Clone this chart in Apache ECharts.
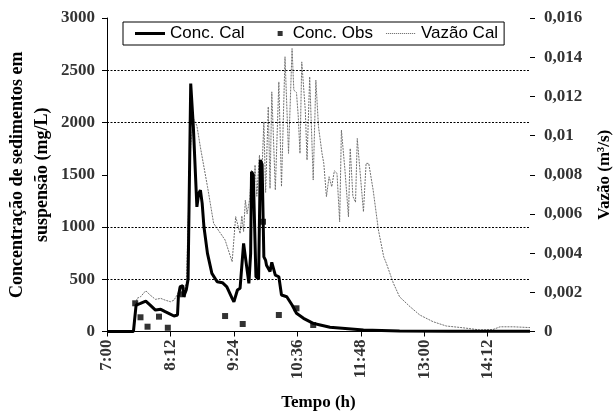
<!DOCTYPE html>
<html>
<head>
<meta charset="utf-8">
<script src="https://cdn.jsdelivr.net/npm/echarts@6/dist/echarts.min.js"></script>
<style>html,body{margin:0;padding:0;background:#fff}#c{width:615px;height:416px}</style>
</head>
<body>
<div id="c"></div>
<script>
// time in minutes since midnight
var calTimes  = [420,450,453,458,464,469,475,481,486,490,496,500,501,503,506,507,510,512,515,518,522,524,526,528,530,534,539,545,551,556,562,564,568,571,573,575,578,581,583,584,586,589,592,594,596,598,600,601,605,607,611,615,618,624,630,635,643,654,662,673,711,752,809,900];
var calValues = [0,0,253,270,291,253,205,212,190,174,148,158,333,428,440,333,400,500,2373,1958,1193,1321,1353,1226,1002,748,556,476,467,428,317,285,397,413,428,843,652,461,748,1528,1500,524,500,1640,1600,715,680,634,575,662,540,524,349,333,253,174,126,78,62,40,14,5,3,2];

var obsTimes  = [452,458,466,479,489,506,554,574,597,615,635,654];
var obsValues = [270,136,46,142,36,356,148,72,1050,158,222,62];

var flowTimes  = [420,450,454,458,464,469,475,481,486,492,496,500,503,507,510,512,515,518,522,526,534,541,554,562,566,568,571,573,575,577,579,582,584,586,588,590,593,595,598,600,603,605,607,611,615,618,620,622,626,630,632,635,637,639,641,645,647,650,654,657,660,664,666,669,672,675,678,681,684,686,690,694,696,699,702,704,707,711,714,717,722,728,734,737,745,752,764,775,790,805,824,843,858,866,881,900];
var flowValues = [0,0,0.00169,0.00177,0.00208,0.00186,0.00164,0.00169,0.0016,0.00152,0.0016,0.0019,0.00237,0.0020,0.0025,0.0055,0.0095,0.01087,0.0105,0.0094,0.0074,0.00552,0.00467,0.00356,0.00586,0.0059,0.0050,0.0059,0.0051,0.0067,0.0060,0.0068,0.00824,0.0070,0.0085,0.0069,0.0090,0.0072,0.0107,0.0071,0.01147,0.0073,0.01223,0.00722,0.01274,0.0074,0.00747,0.01402,0.00909,0.01444,0.01232,0.0122,0.0110,0.00909,0.01376,0.0113,0.00875,0.0130,0.00773,0.01283,0.01045,0.00909,0.00858,0.00688,0.0079,0.00739,0.0082,0.00807,0.0056,0.01028,0.00824,0.00585,0.00934,0.0069,0.0066,0.00985,0.00824,0.00611,0.00858,0.00858,0.00722,0.00518,0.00381,0.00348,0.00246,0.00177,0.00126,0.00084,0.0005,0.00028,0.00019,0.00008,0.0001,0.00024,0.00024,0.0002];

var gridValues = [500, 1000, 2000, 2500];

function zip(a, b) { return a.map(function (t, i) { return [t, b[i]]; }); }
function fmtTime(v) { var h = Math.floor(v / 60), m = Math.round(v % 60); return h + ':' + (m < 10 ? '0' : '') + m; }

// legend icons (30 x 14 box)
var iconThick = 'path://M0,0L0.01,0M30,14L29.99,14M0,5.5h30v3h-30z';
var iconSquare = 'path://M0,0L0.01,0M30,14L29.99,14M20,4.5h5v5h-5z';
var dots = 'M0,0L0.01,0M30,14L29.99,14';
for (var k = 0; k < 30; k += 2) dots += 'M' + k + ',6.5h1.2v1h-1.2z';
var iconDotted = 'path://' + dots;

var serif = 'Liberation Serif';
var chart = echarts.init(document.getElementById('c'), null, {renderer: 'canvas'});
chart.setOption({
  animation: false,
  backgroundColor: '#fff',
  grid: {left: 107, right: 85, top: 18, bottom: 84.5, containLabel: false, outerBoundsMode: 'none'},
  legend: {
    left: 123, top: 22,
    padding: [3, 6, 3, 12],
    itemGap: 13, itemWidth: 30, itemHeight: 14,
    borderColor: '#000', borderWidth: 1, borderRadius: 0,
    backgroundColor: '#fff',
    textStyle: {fontFamily: 'Liberation Sans', fontSize: 17, color: '#000'},
    data: [
      {name: 'Conc. Cal', icon: iconThick, itemStyle: {color: '#000'}},
      {name: 'Conc. Obs', icon: iconSquare, itemStyle: {color: '#000'}},
      {name: 'Vazão Cal', icon: iconDotted, itemStyle: {color: '#777'}}
    ]
  },
  xAxis: {
    type: 'value', min: 420, max: 900, interval: 72,
    name: 'Tempo (h)', nameLocation: 'middle', nameGap: 63,
    nameTextStyle: {fontFamily: serif, fontWeight: 'bold', fontSize: 17, color: '#000'},
    axisLine: {show: true, lineStyle: {color: '#000', width: 1}},
    axisTick: {show: true, length: 5, lineStyle: {color: '#000'}},
    axisLabel: {rotate: 90, margin: 8, showMaxLabel: false, formatter: fmtTime,
      fontFamily: serif, fontWeight: 'bold', fontSize: 17, color: '#333'},
    splitLine: {show: false}
  },
  yAxis: [
    {
      type: 'value', min: 0, max: 3000, interval: 500,
      name: 'Concentração de sedimentos em\nsuspensão (mg/L)', nameLocation: 'middle', nameGap: 52,
      nameMoveOverlap: false,
      nameTextStyle: {fontFamily: serif, fontWeight: 'bold', fontSize: 18, lineHeight: 25, color: '#000'},
      axisLine: {show: true, lineStyle: {color: '#000', width: 1}},
      axisTick: {show: true, length: 5, lineStyle: {color: '#000'}},
      axisLabel: {margin: 12, fontFamily: serif, fontWeight: 'bold', fontSize: 17, color: '#333',
        formatter: function (v) { return String(v); }},
      splitLine: {show: false}
    },
    {
      type: 'value', min: 0, max: 0.016, interval: 0.002, position: 'right',
      name: 'Vazão (m³/s)', nameLocation: 'middle', nameGap: 66,
      nameMoveOverlap: false,
      nameTextStyle: {fontFamily: serif, fontWeight: 'bold', fontSize: 17, color: '#000'},
      axisLine: {show: false},
      axisTick: {show: true, length: 5, lineStyle: {color: '#000'}},
      axisLabel: {margin: 14, fontFamily: serif, fontWeight: 'bold', fontSize: 17, color: '#333',
        formatter: function (v) { return String(+v.toFixed(3)).replace('.', ','); }},
      splitLine: {show: false}
    }
  ],
  series: [
    {
      name: 'Vazão Cal', type: 'line', yAxisIndex: 1, symbol: 'none', z: 2,
      data: zip(flowTimes, flowValues),
      lineStyle: {color: '#707070', width: 1, type: [2, 1]},
      itemStyle: {color: '#707070'}
    },
    {
      name: 'Conc. Cal', type: 'line', yAxisIndex: 0, symbol: 'none', z: 3,
      data: zip(calTimes, calValues),
      lineStyle: {color: '#000', width: 3},
      itemStyle: {color: '#000'},
      markLine: {
        silent: true, symbol: ['none', 'none'], animation: false,
        label: {show: false},
        lineStyle: {color: '#000', width: 1, type: [2, 1.5]},
        data: gridValues.map(function (v) { return {yAxis: v}; })
      }
    },
    {
      name: 'Conc. Obs', type: 'scatter', yAxisIndex: 0, symbol: 'rect', symbolSize: 6, z: 4,
      data: zip(obsTimes, obsValues),
      itemStyle: {color: '#000'}
    }
  ]
});
</script>
</body>
</html>
